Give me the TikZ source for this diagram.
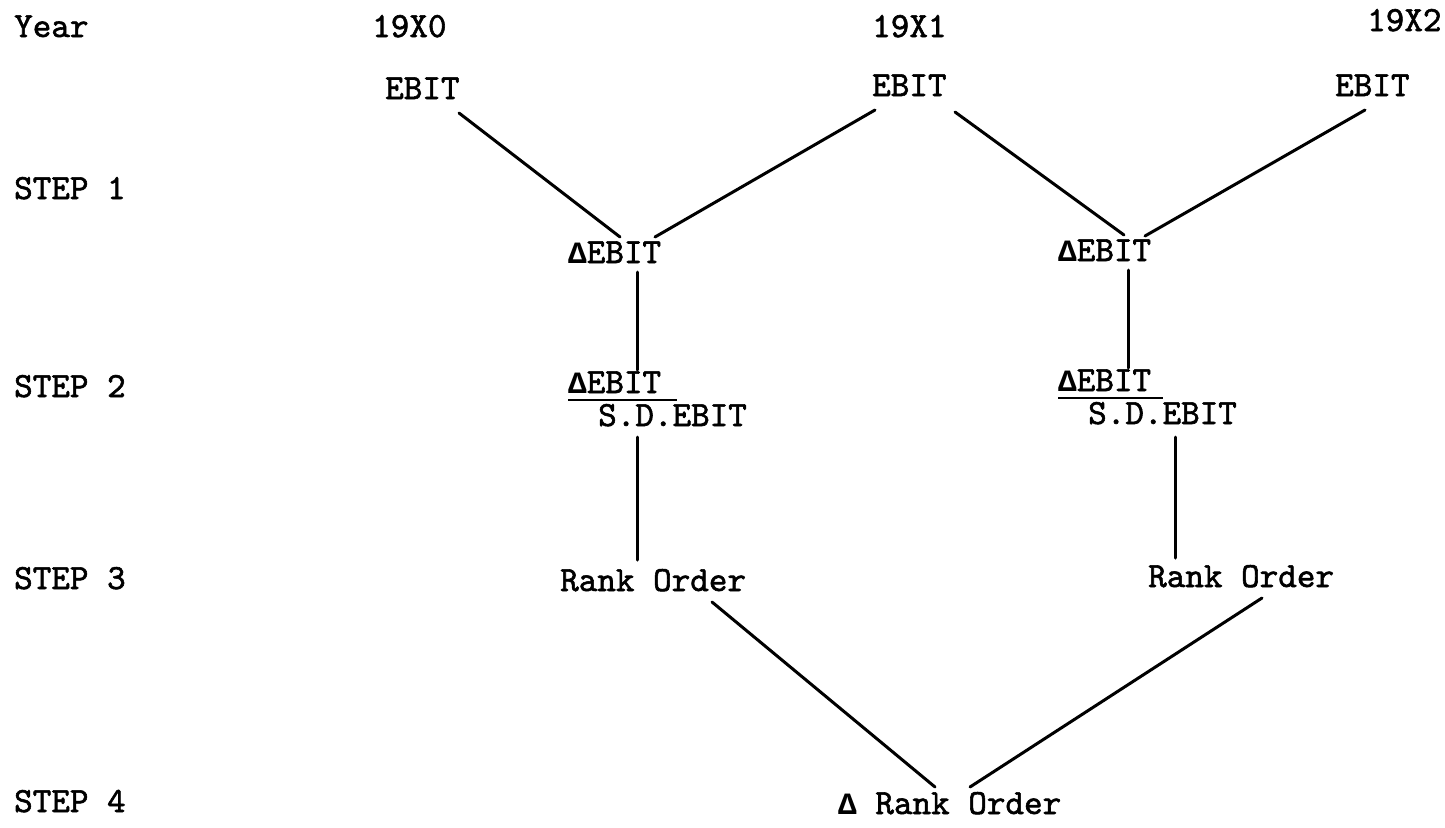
\documentclass[tikz,border=0pt]{standalone}
\usepackage{fontspec}
\newfontfamily\tw[Extension=.otf,FakeBold=1.6]{lmmono10-regular}
\newfontfamily\dfont{Liberation Mono}
\usetikzlibrary{calc}
\tikzset{
  lbl/.style={anchor=base west, inner sep=0pt, font=\fontsize{35.4}{40}\tw\bfseries},
  conn/.style={line width=3pt, line cap=round},
  uline/.style={line width=2pt}
}
\newcommand{\dlt}{{\dfont\fontsize{31}{36}\selectfont\bfseries Δ}}
\begin{document}
\begin{tikzpicture}[x=1pt,y=-1pt]
\useasboundingbox (0,0) rectangle (1445,827);
% left column labels
\node[lbl] (year) at (14,37) {Year};
\node[lbl] (st1) at (14,199) {STEP 1};
\node[lbl] (st2) at (14,397) {STEP 2};
\node[lbl] (st3) at (14,589) {STEP 3};
\node[lbl] (st4) at (14,812) {STEP 4};
% years
\node[lbl] (y0) at (372,37) {19X0};
\node[lbl] (y1) at (872,37) {19X1};
\node[lbl] (y2) at (1367,31) {19X2};
% EBIT
\node[lbl] (e0) at (385,99) {EBIT};
\node[lbl] (e1) at (872,96) {EBIT};
\node[lbl] (e2) at (1335,96) {EBIT};
% Delta EBIT
\node[lbl] (d0) at (568,263) {\dlt EBIT};
\node[lbl] (d1) at (1058,261) {\dlt EBIT};
% ratio
\node[lbl] (u0) at (568,393) {\dlt EBIT};
\node[lbl] (s0) at (598,426) {S.D.EBIT};
\node[lbl] (u1) at (1058,391) {\dlt EBIT};
\node[lbl] (s1) at (1088,424) {S.D.EBIT};
% rank order
\node[lbl] (r0) at (560,591) {Rank Order};
\node[lbl] (r1) at (1148,587) {Rank Order};
\node[lbl] (f) at (838,814) {\dlt{} Rank Order};
% underlines
\draw[uline] ([shift={(0,7)}]u0.base west) -- ([shift={(109,7)}]u0.base west);
\draw[uline] ([shift={(0,7)}]u1.base west) -- ([shift={(105,7)}]u1.base west);
% connectors
\draw[conn] ([shift={(74,14)}]e0.base west) -- ([shift={(52,-26)}]d0.base west);
\draw[conn] ([shift={(3,14)}]e1.base west) -- ([shift={(87,-26)}]d0.base west);
\draw[conn] ([shift={(83,16)}]e1.base west) -- ([shift={(66,-26)}]d1.base west);
\draw[conn] ([shift={(30,14)}]e2.base west) -- ([shift={(87,-25)}]d1.base west);
\draw[conn] ([shift={(69,9)}]d0.base west) -- ([shift={(69,-23)}]u0.base west);
\draw[conn] ([shift={(70,9)}]d1.base west) -- ([shift={(70,-23)}]u1.base west);
\draw[conn] ([shift={(39,11)}]s0.base west) -- ([shift={(77,-31)}]r0.base west);
\draw[conn] ([shift={(87,13)}]s1.base west) -- ([shift={(27,-29)}]r1.base west);
\draw[conn] ([shift={(152,11)}]r0.base west) -- ([shift={(97,-27)}]f.base west);
\draw[conn] ([shift={(114,11)}]r1.base west) -- ([shift={(132,-27)}]f.base west);
\end{tikzpicture}
\end{document}
